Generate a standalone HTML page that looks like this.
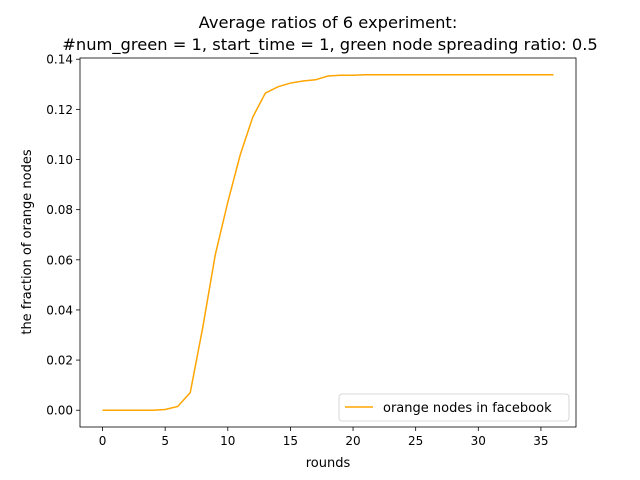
<!DOCTYPE html>
<html><head><meta charset="utf-8"><style>body{margin:0;background:#fff}svg{display:block;font-family:"DejaVu Sans","Liberation Sans",sans-serif}</style></head>
<body>
<svg id="chart" width="640" height="480" xmlns="http://www.w3.org/2000/svg">
<rect width="640" height="480" fill="#fff"/>
<text x="328" y="28" text-anchor="middle" font-size="16.3">Average ratios of 6 experiment:</text>
<text x="330" y="50" text-anchor="middle" font-size="16.3">#num_green = 1, start_time = 1, green node spreading ratio: 0.5</text>
<g id="ticks"></g>
<path id="line" fill="none" stroke="#ffa500" stroke-width="1.5"/>
<rect x="80" y="58" width="496" height="369" fill="none" stroke="#000" stroke-width="0.8"/>
<text x="328" y="467" text-anchor="middle" font-size="13">rounds</text>
<text transform="translate(31,242) rotate(-90)" text-anchor="middle" font-size="13">the fraction of orange nodes</text>
<g>
<rect x="339" y="394" width="230" height="27" rx="3" fill="#fff" stroke="#ccc" stroke-width="0.8"/>
<line x1="345" y1="407" x2="373" y2="407" stroke="#ffa500" stroke-width="1.5"/>
<text x="383" y="412" font-size="13">orange nodes in facebook</text>
</g>
</svg>
<script>
const rounds=[];for(let i=0;i<=36;i++)rounds.push(i);
const fractions=[0,0,0,0,0,0.0003,0.0015,0.007,0.033,0.062,0.083,0.102,0.117,0.1265,0.129,0.1305,0.1313,0.1318,0.1333,0.1336,0.1336,0.1338,0.1338,0.1338,0.1338,0.1338,0.1338,0.1338,0.1338,0.1338,0.1338,0.1338,0.1338,0.1338,0.1338,0.1338,0.1338];
const xTicks=[0,5,10,15,20,25,30,35];
const yTicks=[0,0.02,0.04,0.06,0.08,0.10,0.12,0.14];
const L=80,R=576,T=58,B=427;
const xmin=0,xmax=36,ymin=0,ymax=Math.max(...fractions);
const xs=v=>L+(v-xmin+0.05*(xmax-xmin))/(1.1*(xmax-xmin))*(R-L);
const ys=v=>B-(v-ymin+0.05*(ymax-ymin))/(1.1*(ymax-ymin))*(B-T);
const NS="http://www.w3.org/2000/svg";
const g=document.getElementById('ticks');
function mk(t,a){const e=document.createElementNS(NS,t);for(const k in a)e.setAttribute(k,a[k]);return e;}
xTicks.forEach(v=>{const x=xs(v);
const l=mk('line',{x1:x,x2:x,y1:B,y2:B+4,stroke:'#000','stroke-width':0.8});

g.appendChild(l);
const t=mk('text',{x:x,y:B+18,'text-anchor':'middle','font-size':12});t.textContent=v;

g.appendChild(t);});
yTicks.forEach(v=>{const y=ys(v);
const l=mk('line',{x1:L-4,x2:L,y1:y,y2:y,stroke:'#000','stroke-width':0.8});

g.appendChild(l);
const t=mk('text',{x:L-7,y:y+4.5,'text-anchor':'end','font-size':12});t.textContent=v.toFixed(2);

g.appendChild(t);});
document.getElementById('line').setAttribute('d',fractions.map((v,i)=>(i?'L':'M')+xs(rounds[i])+','+ys(v)).join(''));
</script>
</body></html>
